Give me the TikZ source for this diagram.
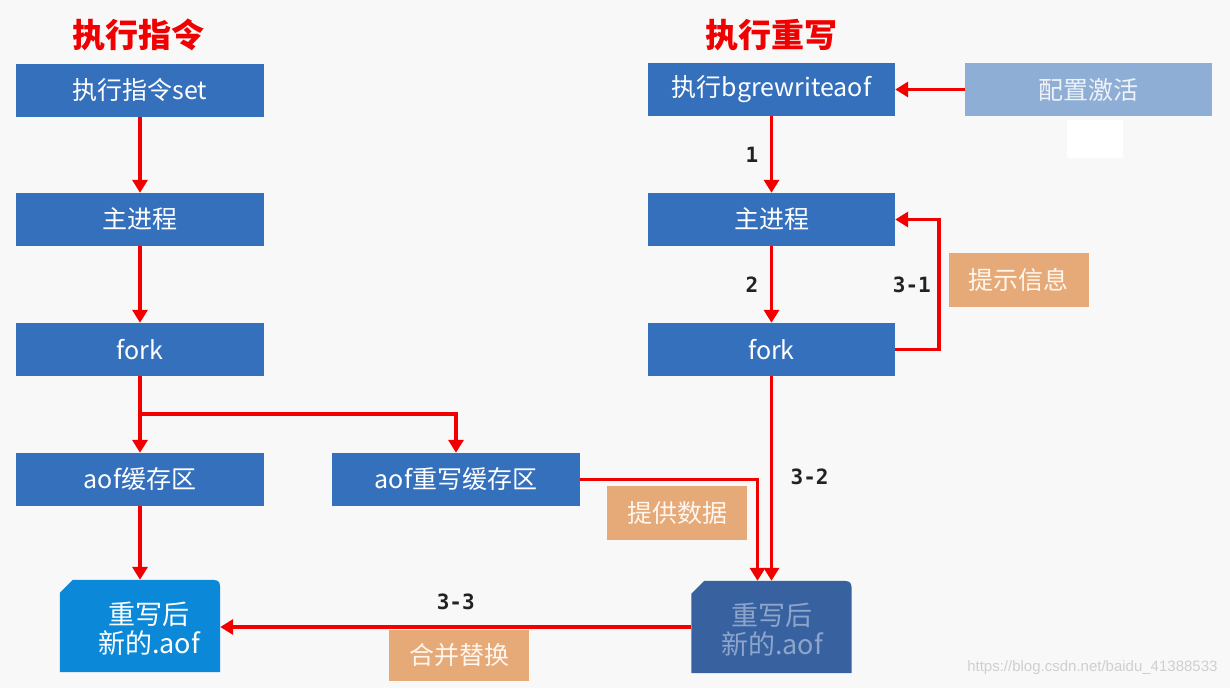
\documentclass[tikz,border=0pt]{standalone}
\usepackage{fontspec}
\newfontfamily\cjk{Noto Sans CJK SC}
\newfontfamily\monof{DejaVu Sans Mono}
\newfontfamily\wmfont{Liberation Sans}
\usetikzlibrary{arrows.meta,backgrounds,calc}
\definecolor{bgc}{HTML}{F8F8F8}
\definecolor{boxblue}{HTML}{3570BD}
\definecolor{fileL}{HTML}{0B88D8}
\definecolor{fileR}{HTML}{38629F}
\definecolor{fileRtext}{HTML}{8DA4CB}
\definecolor{cfgblue}{HTML}{8FAED5}
\definecolor{cfgtext}{HTML}{EEF2F8}
\definecolor{orangec}{HTML}{E6A978}
\definecolor{orangetext}{HTML}{FFF6EE}
\definecolor{arrred}{HTML}{F20000}
\definecolor{titlered}{HTML}{F00000}
\definecolor{wmgray}{HTML}{CFCFCF}
\definecolor{numc}{HTML}{222222}
\begin{document}
\begin{tikzpicture}[x=1pt,y=-1pt,
  stepbox/.style={rectangle, fill=boxblue, text=white, minimum width=248pt, minimum height=53pt, inner sep=0pt, font=\cjk\fontsize{25}{30}\selectfont},
  cfgbox/.style={stepbox, fill=cfgblue, text=cfgtext, minimum width=247pt},
  tipbox/.style={rectangle, fill=orangec, text=orangetext, minimum width=140pt, minimum height=54pt, inner sep=0pt, font=\cjk\fontsize{25}{30}\selectfont},
  filebox/.style={rectangle, minimum width=160pt, minimum height=92pt, inner sep=0pt},
  filetext/.style={align=center, inner sep=0pt, font=\cjk\fontsize{27}{29}\selectfont},
  titletext/.style={text=titlered, font=\cjk\bfseries\fontsize{33}{38}\selectfont},
  num/.style={text=numc, font=\monof\bfseries\fontsize{21}{26}\selectfont},
  arr/.style={draw=arrred, line width=3.6pt, -{Triangle[width=15pt,length=13pt]}},
]
\begin{scope}[on background layer]
\fill[bgc] (0,0) rectangle (1230,688);
\end{scope}
\useasboundingbox (0,0) rectangle (1230,688);

% titles
\node[titletext] (t1) at (138,35) {执行指令};
\node[titletext] (t2) at (771,35) {执行重写};

% left column
\node[stepbox] (A1) at (140,90) {执行指令set};
\node[stepbox] (A2) at (140,219.5) {主进程};
\node[stepbox] (A3) at (140,349.5) {fork};
\node[stepbox] (A4) at (140,479.5) {aof缓存区};
\node[stepbox] (A5) at (456,479.5) {aof重写缓存区};
\node[filebox] (A6) at (140,626) {};
\node[filetext, text=white] (A6t) at (149,629) {重写后\\新的.aof};

% right column
\node[stepbox, minimum width=247pt] (B1) at (771.5,89.5) {执行bgrewriteaof};
\node[cfgbox] (B0) at (1088.5,89.5) {配置激活};
\fill[white] (1067,120) rectangle (1123,158);
\node[stepbox, minimum width=247pt] (B2) at (771.5,219.5) {主进程};
\node[stepbox, minimum width=247pt] (B3) at (771.5,349.5) {fork};
\node[filebox] (B6) at (771.5,627) {};
\node[filetext, text=fileRtext] (B6t) at (772,630) {重写后\\新的.aof};

% file shapes
\begin{scope}[on background layer]
\fill[fileL] (A6.south west) -- ($(A6.north west)+(0,13)$) -- ($(A6.north west)+(13,0)$)
  -- ($(A6.north east)+(-14,0)$) .. controls (A6.north east) .. ($(A6.north east)+(0,14)$)
  -- (A6.south east) -- cycle;
\fill[fileR] (B6.south west) -- ($(B6.north west)+(0,13)$) -- ($(B6.north west)+(13,0)$)
  -- ($(B6.north east)+(-14,0)$) .. controls (B6.north east) .. ($(B6.north east)+(0,14)$)
  -- (B6.south east) -- cycle;
\end{scope}

% tips
\node[tipbox] (tip1) at (1018.5,280) {提示信息};
\node[tipbox] (tip2) at (677,513) {提供数据};
\node[tipbox, minimum height=51pt] (tip3) at (459,655.5) {合并替换};

% connectors left
\draw[arr] (A1) -- (A2);
\draw[arr] (A2) -- (A3);
\draw[arr] (A3) -- (A4);
\coordinate (j1) at (140,414);
\draw[arr] (j1) -| (A5.north);
\draw[arr] (A4) -- (A6);
\draw[arr] (A5.east) -| ($(B6.north)+(-14,0)$);

% connectors right
\draw[arr] (B0) -- (B1);
\draw[arr] (B1) -- node[num, left=8pt] (n1) {1} (B2);
\draw[arr] (B2) -- node[num, left=8pt] (n2) {2} (B3);
\coordinate (k1) at (939,349.5);
\draw[arr] (B3.east) -- (k1) |- node[num, pos=0.25, left=3pt] (n31) {3-1} (B2.east);
\draw[arr] (B3) -- node[num, pos=0.49, right=14pt] (n32) {3-2} (B6);
\draw[arr] (B6.west) -- node[num, pos=0.5, above=12pt] (n33) {3-3} (B6.west -| A6.east);

% watermark
\node[text=wmgray, font=\wmfont\fontsize{15}{18}\selectfont, anchor=east] (wm) at (1221,668) {https://blog.csdn.net/baidu\_41388533};
\end{tikzpicture}
\end{document}
